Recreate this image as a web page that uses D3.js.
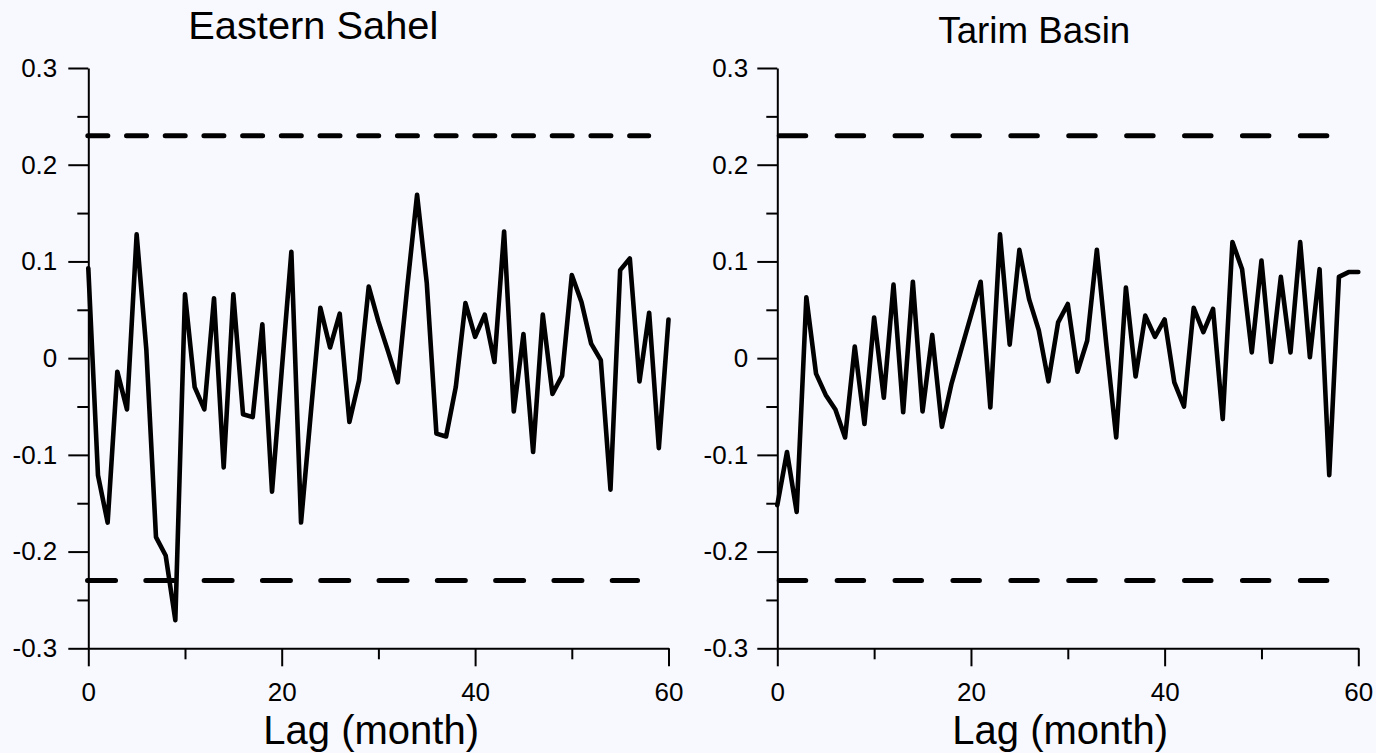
<!DOCTYPE html>
<html>
<head>
<meta charset="utf-8">
<script src="https://cdn.jsdelivr.net/npm/d3@7/dist/d3.min.js"></script>
<style>
  html, body { margin: 0; padding: 0; background: #F8F8FF; }
  svg { display: block; }
  text { font-family: "Liberation Sans", Arial, Helvetica, sans-serif; fill: #000; }
</style>
</head>
<body>
<svg id="chart" width="1376" height="753"></svg>
<script>
// Autocorrelation of the series at lags 0..60 months
const lags = d3.range(0, 61);

const sahelAcf = [
  0.093, -0.121, -0.170, -0.014, -0.053, 0.128, 0.009, -0.185, -0.204, -0.271,
  0.066, -0.030, -0.053, 0.062, -0.113, 0.066, -0.058, -0.061, 0.035, -0.138,
  -0.013, 0.110, -0.170, -0.058, 0.052, 0.011, 0.046, -0.066, -0.023, 0.074,
  0.038, 0.007, -0.025, 0.075, 0.169, 0.078, -0.078, -0.081, -0.030, 0.057,
  0.022, 0.045, -0.004, 0.131, -0.055, 0.025, -0.097, 0.045, -0.037, -0.018,
  0.086, 0.058, 0.015, -0.002, -0.136, 0.091, 0.103, -0.024, 0.047, -0.093,
  0.040
];

const tarimAcf = [
  -0.152, -0.097, -0.159, 0.063, -0.016, -0.038, -0.053, -0.082, 0.012, -0.068,
  0.042, -0.041, 0.076, -0.056, 0.079, -0.055, 0.024, -0.071, -0.026, 0.009,
  0.044, 0.079, -0.051, 0.128, 0.014, 0.112, 0.061, 0.029, -0.024, 0.037,
  0.056, -0.014, 0.018, 0.112, 0.012, -0.082, 0.073, -0.019, 0.044, 0.022,
  0.040, -0.025, -0.050, 0.052, 0.027, 0.051, -0.063, 0.120, 0.092, 0.006,
  0.101, -0.004, 0.084, 0.006, 0.120, 0.001, 0.092, -0.121, 0.084, 0.089,
  0.089
];

// 95% significance bound
const confBound = 0.23;

const titles = ["Eastern Sahel", "Tarim Basin"];
const xLabel = "Lag (month)";

const xMajorTicks = [0, 20, 40, 60];
const xMinorTicks = [10, 30, 50];
const yMajorTicks = [-0.3, -0.2, -0.1, 0, 0.1, 0.2, 0.3];
const yMinorTicks = [-0.25, -0.15, -0.05, 0.05, 0.15, 0.25];

const svg = d3.select("#chart");

// tick text with a plain hyphen for negatives
const fmtY = d => d === 0 ? "0" : d3.format(".1f")(d).replace("\u2212", "-");

// panel geometry
const panels = [
  {
    values: sahelAcf, title: titles[0],
    x0: 88.3, x1: 668.5, yTop: 68, yBot: 648.3,
    titleX: 188.3, titleY: 39.3, titleSize: 39, titleLen: 250,
    labelX: 263.3, labelY: 744,
    tickPad: 11,
    bounds: [
      { v: confBound, from: -0.05, to: 57.95, dash: "20 18.7" },
      { v: -confBound, from: -0.08, to: 56.8, dash: "28 30.3" }
    ]
  },
  {
    values: tarimAcf, title: titles[1],
    x0: 777.3, x1: 1358.3, yTop: 68, yBot: 648.3,
    titleX: 938.3, titleY: 42.7, titleSize: 37, titleLen: 192,
    labelX: 952.3, labelY: 744,
    tickPad: 9,
    bounds: [
      { v: confBound, from: 0.2, to: 56.75, dash: "26.5 31.4" },
      { v: -confBound, from: 0.2, to: 56.75, dash: "26.5 31.4" }
    ]
  }
];

panels.forEach(p => {
  const x = d3.scaleLinear().domain([0, 60]).range([p.x0, p.x1]);
  const y = d3.scaleLinear().domain([-0.3, 0.3]).range([p.yBot, p.yTop]);
  const g = svg.append("g");

  // minor ticks
  g.append("g")
    .attr("transform", `translate(0,${p.yBot})`)
    .call(d3.axisBottom(x).tickValues(xMinorTicks).tickSize(11).tickSizeOuter(0).tickFormat(""))
    .call(a => a.select(".domain").remove());
  g.append("g")
    .attr("transform", `translate(${p.x0},0)`)
    .call(d3.axisLeft(y).tickValues(yMinorTicks).tickSize(11).tickSizeOuter(0).tickFormat(""))
    .call(a => a.select(".domain").remove());

  // major axes
  const xAxis = g.append("g")
    .attr("transform", `translate(0,${p.yBot})`)
    .call(d3.axisBottom(x).tickValues(xMajorTicks).tickSize(18).tickSizeOuter(0)
      .tickPadding(16).tickFormat(d3.format("d")));
  const yAxis = g.append("g")
    .attr("transform", `translate(${p.x0},0)`)
    .call(d3.axisLeft(y).tickValues(yMajorTicks).tickSize(20).tickSizeOuter(0)
      .tickPadding(p.tickPad).tickFormat(fmtY));

  [xAxis, yAxis].forEach(a => {
    a.attr("font-size", null).attr("font-family", null);
    a.selectAll("path, line").attr("stroke", "#000").attr("stroke-width", 2);
    a.selectAll("text").style("font-size", "26px");
  });
  g.selectAll(".tick line").attr("stroke", "#000").attr("stroke-width", 2);

  // significance bounds
  p.bounds.forEach(b => {
    g.append("line")
      .attr("x1", x(b.from)).attr("x2", x(b.to))
      .attr("y1", y(b.v)).attr("y2", y(b.v))
      .attr("stroke", "#000")
      .attr("stroke-width", 5)
      .attr("stroke-linecap", "round")
      .attr("stroke-dasharray", b.dash);
  });

  // autocorrelation curve
  const line = d3.line().x((d, i) => x(lags[i])).y(d => y(d));
  g.append("path")
    .datum(p.values)
    .attr("d", line)
    .attr("fill", "none")
    .attr("stroke", "#000")
    .attr("stroke-width", 4.6)
    .attr("stroke-linejoin", "round")
    .attr("stroke-linecap", "round");

  // titles
  g.append("text")
    .attr("x", p.titleX).attr("y", p.titleY)
    .attr("textLength", p.titleLen)
    .attr("lengthAdjust", "spacingAndGlyphs")
    .style("font-size", p.titleSize + "px")
    .text(p.title);
  g.append("text")
    .attr("x", p.labelX).attr("y", p.labelY)
    .style("font-size", "40px")
    .text(xLabel);
});
</script>
</body>
</html>
